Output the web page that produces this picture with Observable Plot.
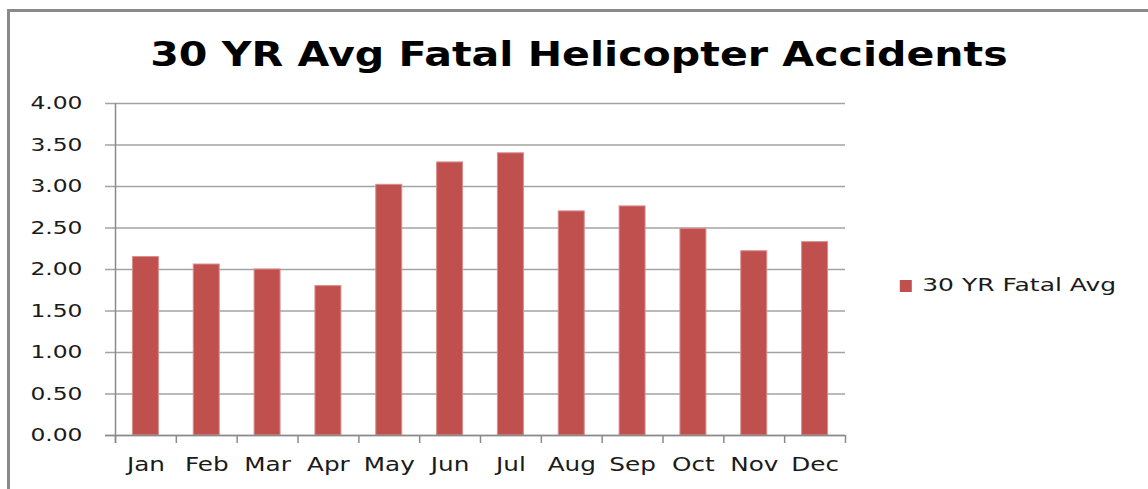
<!DOCTYPE html>
<html><head><meta charset="utf-8">
<script src="https://cdn.jsdelivr.net/npm/d3@7"></script>
<script src="https://cdn.jsdelivr.net/npm/@observablehq/plot@0.6"></script>
<style>
body{margin:0;background:#fff;}
#wrap{position:relative;width:1148px;height:489px;overflow:hidden;}
#border{position:absolute;left:7px;top:9px;width:1200px;height:600px;border-left:3px solid #8a8a8a;border-top:3px solid #8a8a8a;pointer-events:none;}
</style></head><body><div id="wrap"><div id="border"></div></div>
<script>
const months = ["Jan","Feb","Mar","Apr","May","Jun","Jul","Aug","Sep","Oct","Nov","Dec"];
const values = [2.15,2.06,2.00,1.80,3.02,3.29,3.40,2.70,2.76,2.49,2.22,2.33];
const yTicks = [0,0.5,1,1.5,2,2.5,3,3.5,4];
const title = "30 YR Avg Fatal Helicopter Accidents";
const seriesName = "30 YR Fatal Avg";

const data = months.map((m, i) => ({month: m, value: values[i]}));
const W = 1148, H = 489, ML = 115, MR = 303, MT = 103, MB = 54;
const step = (W - ML - MR) / months.length;
const axisColor = "#8a8a8a";
const barColor = "#C0504D";
const fmt = d => d.toFixed(2);

const chart = Plot.plot({
  width: W, height: H,
  marginLeft: ML, marginRight: MR, marginTop: MT, marginBottom: MB,
  style: {fontFamily: "DejaVu Sans", fontSize: "17px", color: "#1a1a1a", background: "transparent"},
  x: {domain: months, paddingInner: 0.573, paddingOuter: 0.2865, round: false, axis: null},
  y: {domain: [0, 4], axis: null},
  marks: [
    Plot.ruleY(yTicks, {y: d => d, stroke: "#a3a3a3", strokeWidth: 1.5, insetLeft: -10}),
    Plot.barY(data, {x: "month", y: "value", fill: barColor, stroke: "#d98e8c", strokeWidth: 1}),
    Plot.ruleY([0], {y: d => d, stroke: axisColor, strokeWidth: 1.5, insetLeft: -10}),
    Plot.ruleX(months.slice(0, 1), {x: d => d, dx: -step / 2, stroke: axisColor, strokeWidth: 1.5, insetBottom: -8}),
    Plot.ruleX(months, {x: d => d, dx: -step / 2, stroke: axisColor, strokeWidth: 1.5, insetTop: H - MT - MB, insetBottom: -8}),
    Plot.ruleX(months.slice(-1), {x: d => d, dx: step / 2, stroke: axisColor, strokeWidth: 1.5, insetTop: H - MT - MB, insetBottom: -8}),
    Plot.text(yTicks, {y: d => d, text: fmt, frameAnchor: "left", dx: -33, textAnchor: "end", fontSize: 18, fill: "#1a1a1a"}),
    Plot.text(months, {x: d => d, text: d => d, frameAnchor: "bottom", dy: 22, lineAnchor: "top", fontSize: 19, fill: "#1a1a1a"}),
    Plot.text([title], {text: d => d, frameAnchor: "top", dx: 98.5, dy: -38, lineAnchor: "bottom", fontSize: 34, fontWeight: "bold", fontFamily: "DejaVu Sans", fill: "#000"}),
    Plot.dot([seriesName], {frameAnchor: "right", dx: 60.3, dy: 16.5, symbol: "square", r: 6.77, fill: barColor}),
    Plot.text([seriesName], {text: d => d, frameAnchor: "right", dx: 76.7, dy: 16.5, textAnchor: "start", fontSize: 17, fill: "#1a1a1a"})
  ]
});

// the reference lettering is stretched horizontally; scale each label about its anchor
function stretch(el, s) {
  const x = +el.getAttribute("x") || 0, y = +el.getAttribute("y") || 0;
  const tr = el.getAttribute("transform") || "";
  el.setAttribute("transform", `${tr} translate(${x},${y}) scale(${s},1) translate(${-x},${-y})`);
}
const yLabelSet = new Set(yTicks.map(fmt));
const monthSet = new Set(months);
d3.select(chart).selectAll("text").each(function () {
  const t = this.textContent;
  if (yLabelSet.has(t)) stretch(this, 1.3);
  else if (monthSet.has(t)) stretch(this, 1.3);
  else if (t === seriesName) stretch(this, 1.47);
  else if (t === title) stretch(this, 1.21);
});
document.getElementById("wrap").prepend(chart);
</script>
</body></html>
